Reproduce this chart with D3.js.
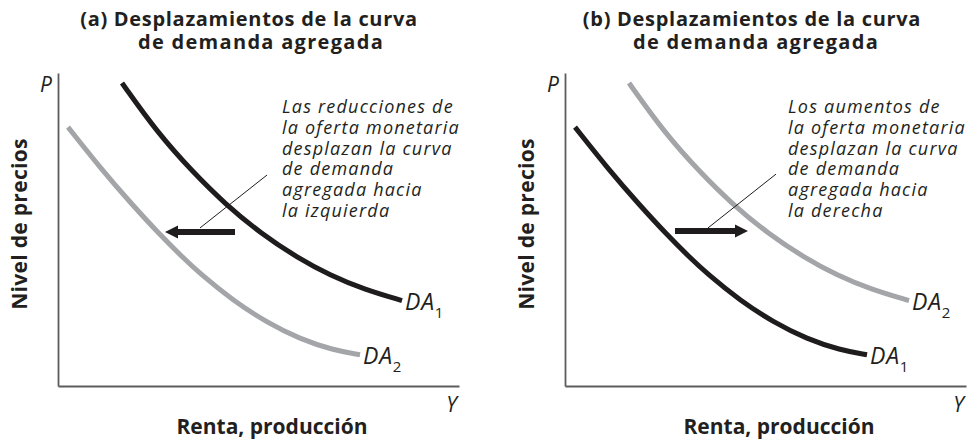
<!DOCTYPE html>
<html>
<head>
<meta charset="utf-8">
<script src="https://cdn.jsdelivr.net/npm/d3@7"></script>
<style>
  body { margin: 0; background: #fff; }
  svg text { font-family: 'Open Sans', sans-serif; fill: #231f20; }
</style>
</head>
<body>
<div id="view"></div>
<script>
'use strict';

// curves, in axis units (0..10 both ways)
const outerCurve = [[1.6, 9.68], [2.475, 8.11], [3.375, 6.83], [4.175, 5.82], [5.075, 4.87],
  [6.0, 4.09], [6.8, 3.54], [7.65, 3.09], [8.6, 2.73]];
const innerCurve = [[0.25, 8.27], [1.1, 6.9], [1.85, 5.8], [2.55, 4.83], [3.125, 4.1],
  [3.55, 3.59], [4.375, 2.73], [5.225, 2.03], [6.05, 1.5], [6.875, 1.15], [7.55, 1.0]];

const titlesA = ['(a) Desplazamientos de la curva', 'de demanda agregada'];
const titlesB = ['(b) Desplazamientos de la curva', 'de demanda agregada'];
const notesA = ['Las reducciones de', 'la oferta monetaria', 'desplazan la curva',
  'de demanda', 'agregada hacia', 'la izquierda'];
const notesB = ['Los aumentos de', 'la oferta monetaria', 'desplazan la curva',
  'de demanda', 'agregada hacia', 'la derecha'];

// shift arrows: from x -> to x at height y
const arrowA = { from: 4.425, to: 2.675, y: 4.92 };
const arrowB = { from: 2.75, to: 4.575, y: 4.95 };
const leaderA = [[3.55, 5.05], [5.225, 6.74]];
const leaderB = [[3.575, 5.05], [5.275, 6.77]];

const presentation = {
  black: '#1f1c1d',
  gray: '#a3a5a8',
  axis: '#5c5c5e'
};

const size = { w: 969, h: 444, plotW: 401, top: 73, bottom: 386 };

const panels = [
  { x0: 58, titles: titlesA, titleX: [191, 203], notes: notesA, arrow: arrowA, leader: leaderA,
    outerColor: presentation.black, innerColor: presentation.gray, outerSub: '1', innerSub: '2', notesX: 224 },
  { x0: 565, titles: titlesB, titleX: [187, 191], notes: notesB, arrow: arrowB, leader: leaderB,
    outerColor: presentation.gray, innerColor: presentation.black, outerSub: '2', innerSub: '1', notesX: 223 }
];

const xScale = d3.scaleLinear().domain([0, 10]).range([0, 400]);
const yScale = d3.scaleLinear().domain([0, 10]).range([size.bottom, size.top]);

const line = d3.line()
  .x(d => xScale(d[0]))
  .y(d => yScale(d[1]))
  .curve(d3.curveBasis);

const svg = d3.select('#view').append('svg')
  .attr('width', size.w)
  .attr('height', size.h);

panels.forEach(p => drawPanel(p));

function drawPanel(p) {
  const g = svg.append('g').attr('transform', `translate(${p.x0},0)`);

  // titles, second line runs a bit wider in the original
  p.titles.forEach((t, i) => {
    g.append('text')
      .attr('x', p.titleX[i])
      .attr('y', 26 + i * 23)
      .attr('text-anchor', 'middle')
      .attr('font-size', 20)
      .attr('font-weight', 700)
      .attr('letter-spacing', i === 0 ? 0.7 : 1.3)
      .text(t);
  });

  // axes without ticks
  const xAxis = d3.axisBottom(d3.scaleLinear().range([0, size.plotW])).tickValues([]).tickSizeOuter(0);
  const yAxis = d3.axisLeft(yScale).tickValues([]).tickSizeOuter(0);
  g.append('g').attr('transform', `translate(0,${size.bottom})`).call(xAxis)
    .select('.domain').attr('stroke', presentation.axis).attr('stroke-width', 1.8);
  g.append('g').call(yAxis)
    .select('.domain').attr('stroke', presentation.axis).attr('stroke-width', 1.8);

  g.append('text')
    .attr('x', -6).attr('y', 92)
    .attr('text-anchor', 'end')
    .attr('font-size', 21).attr('font-style', 'italic')
    .text('P');

  g.append('text')
    .attr('x', size.plotW - 2).attr('y', 412)
    .attr('text-anchor', 'end')
    .attr('font-size', 21).attr('font-style', 'italic')
    .text('Y');

  g.append('text')
    .attr('transform', 'rotate(-90)')
    .attr('x', -224).attr('y', -31)
    .attr('text-anchor', 'middle')
    .attr('font-size', 21).attr('font-weight', 700)
    .attr('letter-spacing', 0.3)
    .text('Nivel de precios');

  g.append('text')
    .attr('x', 214).attr('y', 434)
    .attr('text-anchor', 'middle')
    .attr('font-size', 21).attr('font-weight', 700)
    .text('Renta, producción');

  // curves
  const curves = [
    { data: innerCurve, color: p.innerColor, sub: p.innerSub },
    { data: outerCurve, color: p.outerColor, sub: p.outerSub }
  ];
  curves.forEach(c => {
    g.append('path')
      .attr('d', line(c.data))
      .attr('fill', 'none')
      .attr('stroke', c.color)
      .attr('stroke-width', 5);

    const end = c.data[c.data.length - 1];
    const label = g.append('text')
      .attr('x', xScale(end[0]) + 3)
      .attr('y', yScale(end[1]) + 9)
      .attr('font-size', 23).attr('font-style', 'italic')
      .attr('letter-spacing', 0.8);
    label.append('tspan').text('DA');
    label.append('tspan')
      .attr('font-size', 15).attr('font-style', 'normal')
      .attr('dy', 8)
      .text(c.sub);
  });

  // leader line
  g.append('line')
    .attr('x1', xScale(p.leader[0][0])).attr('y1', yScale(p.leader[0][1]))
    .attr('x2', xScale(p.leader[1][0])).attr('y2', yScale(p.leader[1][1]))
    .attr('stroke', presentation.black)
    .attr('stroke-width', 1);

  // shift arrow
  const a = p.arrow;
  const dir = Math.sign(a.to - a.from);
  const tipX = xScale(a.to), ay = yScale(a.y);
  g.append('line')
    .attr('x1', xScale(a.from)).attr('y1', ay)
    .attr('x2', tipX - dir * 10).attr('y2', ay)
    .attr('stroke', presentation.black)
    .attr('stroke-width', 6);
  g.append('path')
    .attr('d', `M${tipX},${ay} L${tipX - dir * 13},${ay - 6.5} L${tipX - dir * 13},${ay + 6.5} Z`)
    .attr('fill', presentation.black);

  // note text
  const note = g.append('text')
    .attr('font-size', 18).attr('font-style', 'italic')
    .attr('letter-spacing', 1.2);
  p.notes.forEach((t, i) => {
    note.append('tspan')
      .attr('x', p.notesX)
      .attr('y', 113 + i * 20.8)
      .text(t);
  });
}
</script>
</body>
</html>
